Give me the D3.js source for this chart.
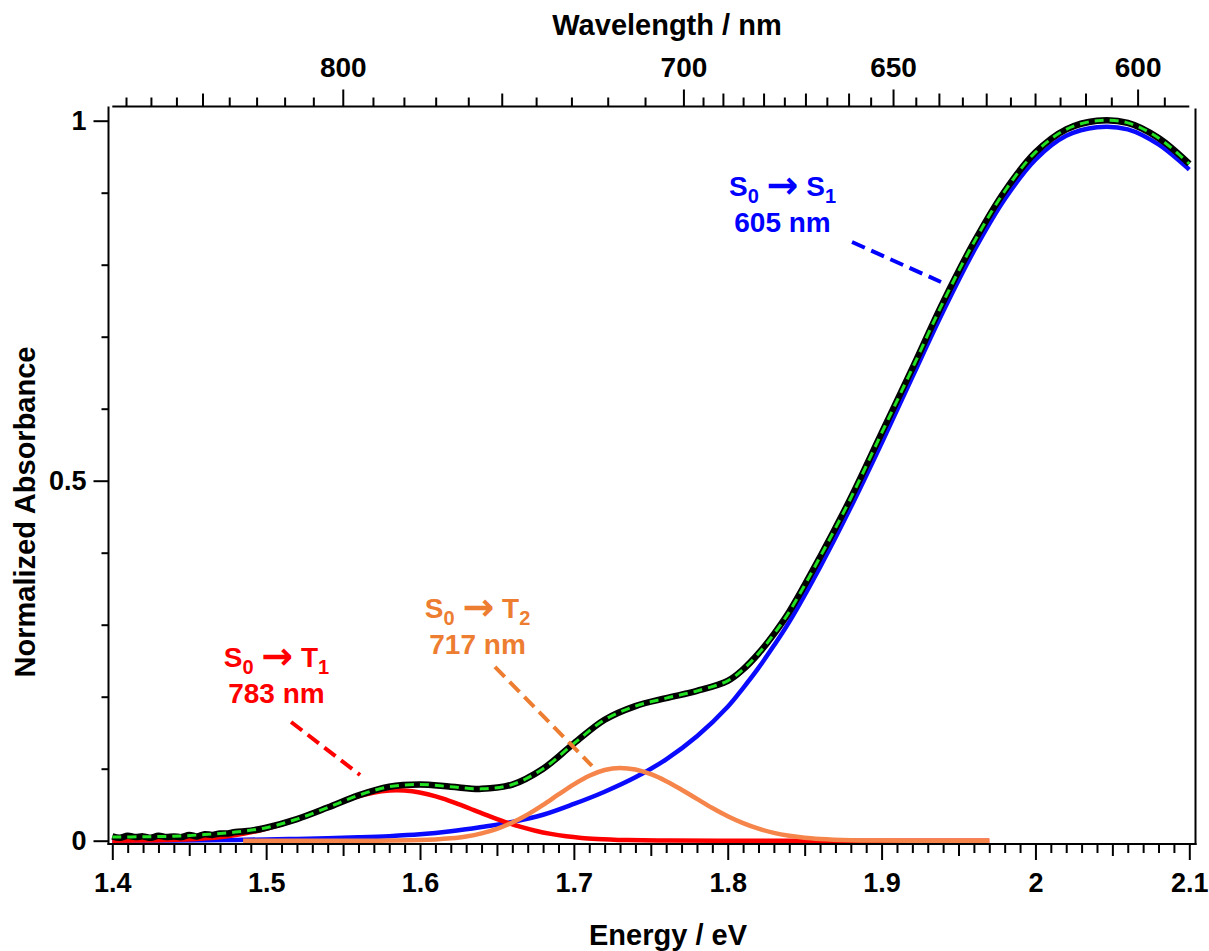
<!DOCTYPE html>
<html>
<head>
<meta charset="utf-8">
<script src="https://cdn.jsdelivr.net/npm/d3@7"></script>
<style>
  html, body { margin: 0; padding: 0; background: #fff; }
  svg { display: block; }
  text { font-family: "Liberation Sans", Arial, sans-serif; font-weight: bold; }
</style>
</head>
<body>
<svg id="chart" width="1209" height="951"></svg>
<script>
// ---- data -------------------------------------------------------------
// common energy grid (eV)
const energyGrid = [1.40,1.42,1.44,1.46,1.48,1.50,1.52,1.54,1.56,1.58,1.60,1.62,1.64,1.66,1.68,1.70,1.72,1.74,1.76,1.78,1.80,1.81,1.82,1.83,1.84,1.86,1.88,1.90,1.92,1.94,1.96,1.98,2.00,2.02,2.04,2.06,2.08,2.10];

// S0 -> S1 band
const s1Abs = [0.0000,0.0002,0.0004,0.0007,0.0011,0.0017,0.0025,0.0035,0.0047,0.0063,0.0088,0.013,0.019,0.026,0.036,0.051,0.068,0.088,0.113,0.145,0.186,0.212,0.240,0.271,0.304,0.380,0.463,0.552,0.644,0.735,0.819,0.891,0.946,0.979,0.991,0.988,0.967,0.932];

// S0 -> T1 band
const t1Energy = [1.40,1.415,1.435,1.455,1.475,1.485,1.495,1.505,1.515,1.525,1.535,1.545,1.555,1.565,1.575,1.585,1.595,1.605,1.615,1.625,1.635,1.645,1.655,1.665,1.675,1.685,1.695,1.705,1.715,1.735,1.755,1.795,1.895,1.97];
const t1Abs = [0.0001,0.0002,0.0008,0.0024,0.0062,0.0095,0.0139,0.0195,0.0263,0.0341,0.0425,0.0508,0.0585,0.0646,0.0686,0.0700,0.0686,0.0646,0.0585,0.0508,0.0425,0.0341,0.0263,0.0195,0.0139,0.0095,0.0062,0.0039,0.0024,0.0008,0.0002,0.0000,0.0000,0.0000];

// S0 -> T2 band
const t2Energy = [1.485,1.52,1.56,1.58,1.60,1.61,1.62,1.63,1.64,1.65,1.66,1.67,1.68,1.69,1.70,1.71,1.72,1.73,1.74,1.75,1.76,1.77,1.78,1.79,1.80,1.81,1.82,1.83,1.84,1.85,1.86,1.88,1.90,1.92,1.97];
const t2Abs = [0.0000,0.0000,0.0000,0.0002,0.0008,0.0017,0.0033,0.0059,0.0102,0.0165,0.0252,0.0364,0.0497,0.0642,0.0783,0.0902,0.0982,0.1010,0.0988,0.0924,0.0827,0.0708,0.0580,0.0454,0.0340,0.0244,0.0167,0.0109,0.0069,0.0041,0.0024,0.0007,0.0002,0.0000,0.0000];

// measured spectrum
const dataEnergy = [1.400,1.405,1.410,1.415,1.420,1.425,1.430,1.435,1.440,1.445,1.450,1.455,1.460,1.465,1.470,1.475,1.480,1.49,1.50,1.52,1.54,1.56,1.58,1.60,1.62,1.64,1.66,1.68,1.70,1.72,1.74,1.76,1.78,1.80,1.81,1.82,1.83,1.84,1.86,1.88,1.90,1.92,1.94,1.96,1.98,2.00,2.02,2.04,2.06,2.08,2.10];
const dataAbs = [0.006,0.004,0.007,0.005,0.006,0.004,0.007,0.005,0.006,0.005,0.008,0.006,0.009,0.008,0.010,0.010,0.012,0.014,0.018,0.030,0.046,0.063,0.075,0.078,0.075,0.072,0.078,0.100,0.135,0.168,0.187,0.198,0.208,0.222,0.238,0.260,0.287,0.318,0.394,0.476,0.566,0.656,0.748,0.831,0.902,0.956,0.988,1.000,0.997,0.976,0.940];

// total fit
const fitAbs = [0.005,0.0055,0.0062,0.0085,0.012,0.018,0.030,0.046,0.063,0.075,0.078,0.075,0.072,0.078,0.100,0.135,0.168,0.187,0.198,0.208,0.222,0.238,0.260,0.287,0.318,0.394,0.476,0.566,0.656,0.748,0.831,0.902,0.956,0.988,1.000,0.997,0.976,0.940];

// axis ticks
const energyMajor = [1.4,1.5,1.6,1.7,1.8,1.9,2.0,2.1];
const energyLabels = ["1.4","1.5","1.6","1.7","1.8","1.9","2","2.1"];
const absMajor = [0, 0.5, 1];
const absLabels = ["0","0.5","1"];
const absMinor = [0.1,0.2,0.3,0.4,0.6,0.7,0.8,0.9];
const waveMajor = [800, 700, 650, 600];
const waveMedium = [850, 750, 690, 680, 670, 660, 640, 630, 620, 610];
const waveMinor = [880,870,860,840,830,820,810,790,780,770,760,740,730,720,710,695,685,675,665,655,645,635,625,615,605,595];

// annotations (energy, absorbance)
const notes = [
  { color: "#0000ff", state: "S", sub: "1", nm: "605 nm", at: [1.8356, 0.8954], lead: [[1.8808, 0.8315], [1.9386, 0.7760]] },
  { color: "#ed7d31", state: "T", sub: "2", nm: "717 nm", at: [1.6374, 0.3093], lead: [[1.6487, 0.2413], [1.7118, 0.1038]] },
  { color: "#ff0000", state: "T", sub: "1", nm: "783 nm", at: [1.5067, 0.2413], lead: [[1.5162, 0.1649], [1.5610, 0.0913]] }
];

// ---- layout -----------------------------------------------------------
const svg = d3.select("#chart");
const x = d3.scaleLinear().domain([1.4, 2.1]).range([112.3, 1189.3]);
const y = d3.scaleLinear().domain([0, 1]).range([840.7, 120.7]);
const frame = { left: 108.5, right: 1195.5, top: 106.5, bottom: 844 };
const hc = 1239.84; // eV*nm

// ---- curves -----------------------------------------------------------
const smooth = d3.line().x(d => x(d[0])).y(d => y(d[1])).curve(d3.curveCatmullRom.alpha(0.5));
const band = d3.line().x(d => x(d[0])).y(d => y(d[1])).curve(d3.curveMonotoneX);
const zip = (a, b) => a.map((v, i) => [v, b[i]]);

const plot = svg.append("g").attr("fill", "none");
plot.append("path").attr("d", smooth(zip(energyGrid, s1Abs)))
  .attr("stroke", "#0a0aff").attr("stroke-width", 4.5);
plot.append("path").attr("d", band(zip(t1Energy, t1Abs)))
  .attr("stroke", "#ff0000").attr("stroke-width", 4.5);
plot.append("path").attr("d", band(zip(t2Energy, t2Abs)))
  .attr("stroke", "#f5854a").attr("stroke-width", 4.5);
plot.append("path").attr("d", smooth(zip(dataEnergy, dataAbs)))
  .attr("stroke", "#000").attr("stroke-width", 6.5)
  .attr("stroke-linejoin", "round");
plot.append("path").attr("d", smooth(zip(energyGrid, fitAbs)))
  .attr("stroke", "#22e022").attr("stroke-width", 3)
  .attr("stroke-dasharray", "9,6");

// ---- frame ------------------------------------------------------------
const axisStroke = (sel) => sel.attr("stroke", "#000").attr("stroke-width", 2);
svg.append("line").attr("x1", frame.left).attr("x2", frame.left).attr("y1", frame.top).attr("y2", frame.bottom + 1).call(axisStroke);
svg.append("line").attr("x1", frame.right).attr("x2", frame.right).attr("y1", frame.top + 2).attr("y2", frame.bottom + 1).call(axisStroke);
svg.append("line").attr("x1", frame.left - 1).attr("x2", frame.right + 1).attr("y1", frame.bottom).attr("y2", frame.bottom).call(axisStroke);
svg.append("line").attr("x1", x(1.4)).attr("x2", x(2.1)).attr("y1", frame.top).attr("y2", frame.top).call(axisStroke);

function styleAxis(g) {
  g.select(".domain").remove();
  g.selectAll(".tick line").attr("stroke", "#000").attr("stroke-width", 2);
  g.selectAll(".tick text").attr("fill", "#000");
}

// bottom energy axis
const eMinor = d3.range(140, 211).map(v => v / 100).filter(v => Math.round(v * 100) % 5 !== 0);
const eMid = d3.range(145, 210, 10).map(v => v / 100);
svg.append("g").attr("transform", `translate(0,${frame.bottom})`)
  .call(d3.axisBottom(x).tickValues(eMinor).tickSize(9).tickFormat(""))
  .call(styleAxis);
svg.append("g").attr("transform", `translate(0,${frame.bottom})`)
  .call(d3.axisBottom(x).tickValues(eMid).tickSize(12).tickFormat(""))
  .call(styleAxis);
svg.append("g").attr("transform", `translate(0,${frame.bottom})`)
  .call(d3.axisBottom(x).tickValues(energyMajor).tickSize(16).tickPadding(13)
    .tickFormat((d, i) => energyLabels[i]))
  .call(styleAxis)
  .selectAll("text").attr("font-size", 27);

// left absorbance axis
svg.append("g").attr("transform", `translate(${frame.left},0)`)
  .call(d3.axisLeft(y).tickValues(absMinor).tickSize(7).tickFormat(""))
  .call(styleAxis);
svg.append("g").attr("transform", `translate(${frame.left},0)`)
  .call(d3.axisLeft(y).tickValues(absMajor).tickSize(15).tickPadding(7)
    .tickFormat((d, i) => absLabels[i]))
  .call(styleAxis)
  .selectAll("text").attr("font-size", 27);

// top wavelength axis (positions from E = hc / lambda)
const toE = nm => hc / nm;
svg.append("g").attr("transform", `translate(0,${frame.top})`)
  .call(d3.axisTop(x).tickValues(waveMinor.map(toE)).tickSize(9).tickFormat(""))
  .call(styleAxis);
svg.append("g").attr("transform", `translate(0,${frame.top})`)
  .call(d3.axisTop(x).tickValues(waveMedium.map(toE)).tickSize(13).tickFormat(""))
  .call(styleAxis);
svg.append("g").attr("transform", `translate(0,${frame.top})`)
  .call(d3.axisTop(x).tickValues(waveMajor.map(toE)).tickSize(17).tickPadding(13)
    .tickFormat((d, i) => String(waveMajor[i])))
  .call(styleAxis)
  .selectAll("text").attr("font-size", 28);

// ---- titles -----------------------------------------------------------
svg.append("text").attr("x", 667).attr("y", 35).attr("text-anchor", "middle")
  .attr("font-size", 29).text("Wavelength / nm");
svg.append("text").attr("x", 668).attr("y", 945).attr("text-anchor", "middle")
  .attr("font-size", 29).text("Energy / eV");
svg.append("text").attr("transform", "translate(35,512) rotate(-90)")
  .attr("text-anchor", "middle").attr("font-size", 29).text("Normalized Absorbance");

// ---- annotations ------------------------------------------------------
notes.forEach(n => {
  const [ex, ey] = n.at;
  const cx = x(ex), cy = y(ey);
  const t = svg.append("text").attr("x", cx).attr("y", cy)
    .attr("text-anchor", "middle").attr("fill", n.color).attr("font-size", 28);
  t.append("tspan").text("S");
  t.append("tspan").attr("font-size", 20).attr("dy", 7).text("0");
  t.append("tspan").attr("dy", -7).text(" ");
  t.append("tspan").attr("font-family", "DejaVu Sans").attr("font-size", 38).attr("dy", 2).text("\u2192");
  t.append("tspan").attr("dy", -2).text(" " + n.state);
  t.append("tspan").attr("font-size", 20).attr("dy", 7).text(n.sub);
  svg.append("text").attr("x", cx).attr("y", cy + 36)
    .attr("text-anchor", "middle").attr("fill", n.color).attr("font-size", 28).text(n.nm);
  svg.append("line")
    .attr("x1", x(n.lead[0][0])).attr("y1", y(n.lead[0][1]))
    .attr("x2", x(n.lead[1][0])).attr("y2", y(n.lead[1][1]))
    .attr("stroke", n.color).attr("stroke-width", 4).attr("stroke-dasharray", "14,7");
});
</script>
</body>
</html>
